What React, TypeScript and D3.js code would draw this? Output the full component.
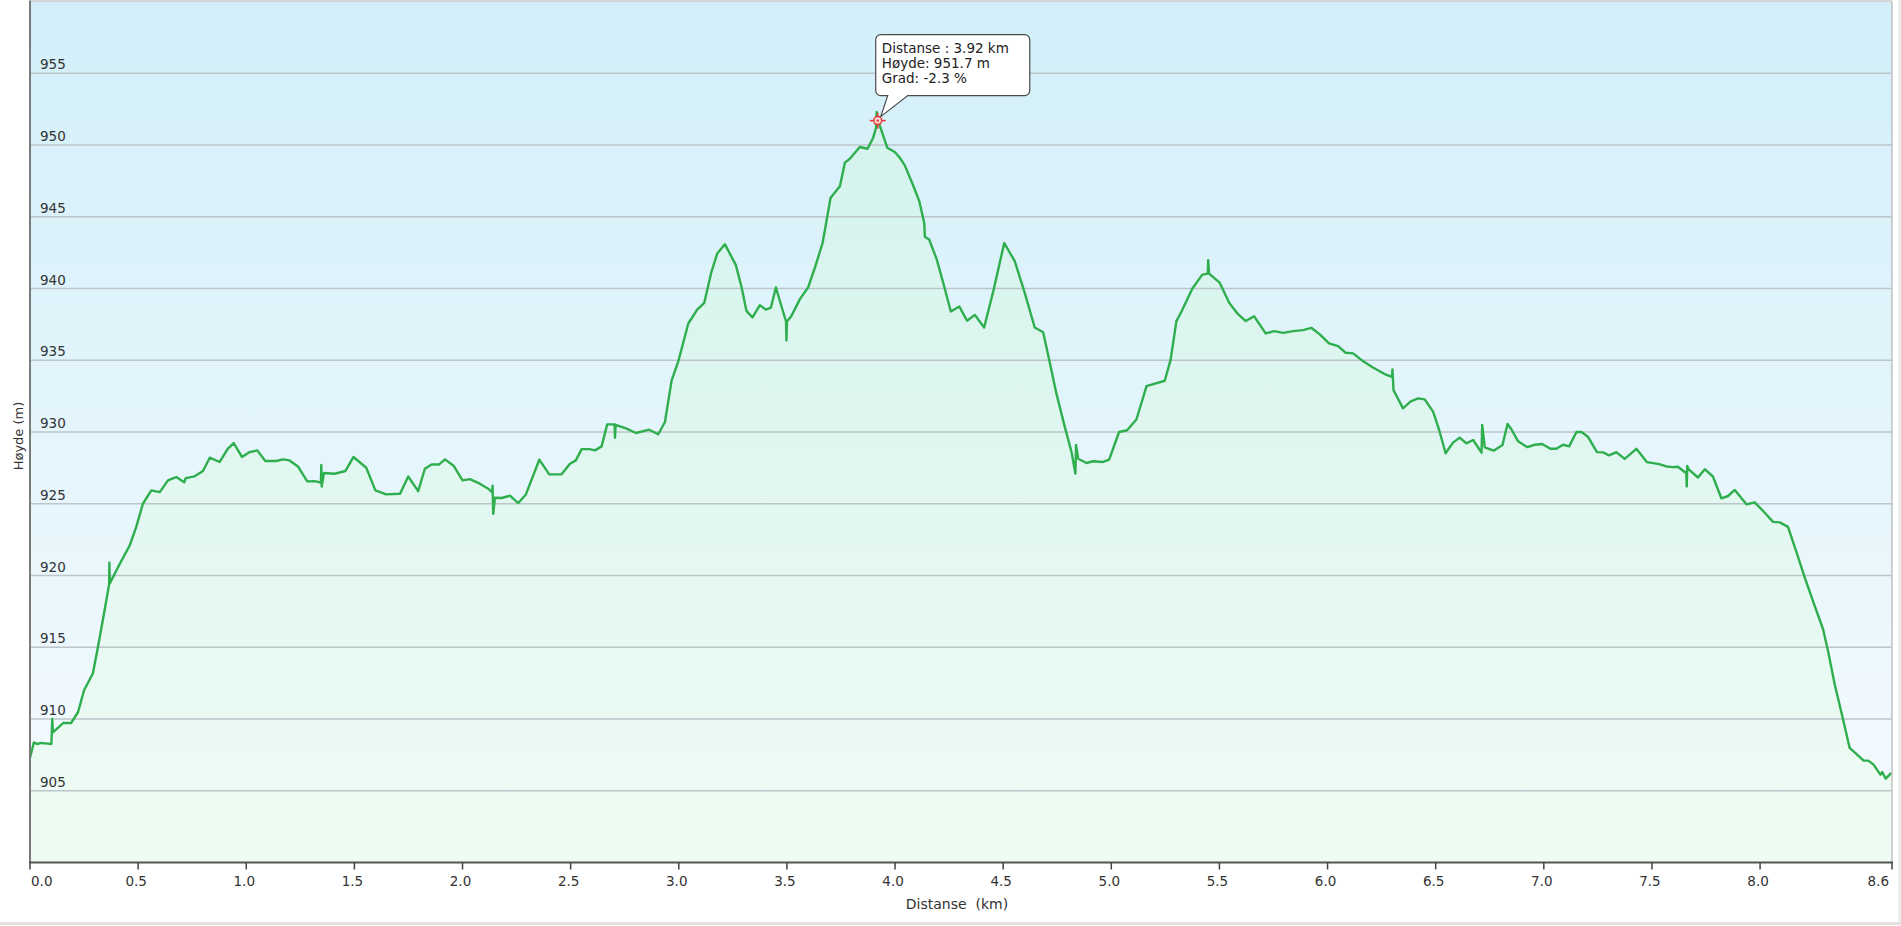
import React, { useEffect } from "react";
import * as d3 from "d3";

// ---- data ----
const distanceKm: number[] = [
  0.0, 0.018, 0.035, 0.049, 0.07, 0.099, 0.103, 0.106, 0.153, 0.19,
  0.222, 0.25, 0.291, 0.314, 0.342, 0.366, 0.367, 0.369, 0.407, 0.461,
  0.491, 0.522, 0.561, 0.6, 0.638, 0.676, 0.713, 0.72, 0.761, 0.8,
  0.831, 0.877, 0.915, 0.942, 0.98, 1.016, 1.051, 1.088, 1.139, 1.17,
  1.2, 1.239, 1.282, 1.316, 1.345, 1.347, 1.349, 1.359, 1.409, 1.458,
  1.496, 1.555, 1.597, 1.647, 1.711, 1.749, 1.795, 1.826, 1.857, 1.892,
  1.919, 1.96, 2.0, 2.034, 2.08, 2.119, 2.137, 2.139, 2.142, 2.15,
  2.181, 2.219, 2.258, 2.293, 2.355, 2.401, 2.458, 2.497, 2.524, 2.551,
  2.586, 2.612, 2.643, 2.669, 2.703, 2.705, 2.708, 2.759, 2.802, 2.863,
  2.905, 2.936, 2.967, 2.997, 3.044, 3.085, 3.118, 3.151, 3.178, 3.213,
  3.264, 3.29, 3.313, 3.341, 3.375, 3.403, 3.426, 3.449, 3.496, 3.498,
  3.5, 3.521, 3.56, 3.598, 3.629, 3.665, 3.702, 3.745, 3.768, 3.791,
  3.837, 3.873, 3.899, 3.912, 3.915, 3.92, 3.93, 3.964, 3.999, 4.022,
  4.045, 4.084, 4.112, 4.135, 4.138, 4.158, 4.192, 4.223, 4.258, 4.297,
  4.333, 4.369, 4.412, 4.454, 4.505, 4.554, 4.6, 4.646, 4.685, 4.713,
  4.746, 4.785, 4.816, 4.834, 4.837, 4.847, 4.885, 4.916, 4.962, 4.99,
  5.036, 5.073, 5.116, 5.163, 5.247, 5.274, 5.301, 5.324, 5.375, 5.421,
  5.446, 5.448, 5.452, 5.502, 5.545, 5.586, 5.622, 5.66, 5.714, 5.753,
  5.794, 5.841, 5.887, 5.925, 5.964, 6.007, 6.049, 6.084, 6.118, 6.161,
  6.21, 6.264, 6.298, 6.3, 6.305, 6.349, 6.383, 6.418, 6.449, 6.488,
  6.516, 6.546, 6.58, 6.611, 6.642, 6.673, 6.712, 6.715, 6.727, 6.768,
  6.809, 6.832, 6.85, 6.881, 6.923, 6.958, 6.993, 7.03, 7.058, 7.089,
  7.117, 7.151, 7.174, 7.205, 7.246, 7.274, 7.302, 7.335, 7.374, 7.428,
  7.477, 7.533, 7.567, 7.597, 7.62, 7.659, 7.661, 7.663, 7.67, 7.713,
  7.744, 7.782, 7.821, 7.852, 7.883, 7.937, 7.975, 8.013, 8.06, 8.091,
  8.129, 8.168, 8.206, 8.248, 8.291, 8.314, 8.345, 8.38, 8.414, 8.445,
  8.479, 8.5, 8.525, 8.556, 8.565, 8.581, 8.607,
];

const elevationM: number[] = [
  907.3, 908.37, 908.25, 908.33, 908.3, 908.26, 910.0, 909.07, 909.72, 909.72,
  910.47, 912.0, 913.19, 915.0, 917.33, 919.4, 920.9, 919.45, 920.58, 922.09,
  923.37, 925.0, 925.93, 925.81, 926.63, 926.86, 926.5, 926.79, 926.91, 927.28,
  928.21, 927.91, 928.84, 929.23, 928.26, 928.6, 928.72, 927.98, 927.98, 928.09,
  928.02, 927.6, 926.56, 926.58, 926.47, 927.7, 926.2, 927.14, 927.09, 927.28,
  928.26, 927.51, 925.93, 925.65, 925.7, 926.9, 925.88, 927.44, 927.74, 927.74,
  928.09, 927.63, 926.63, 926.72, 926.4, 926.05, 925.8, 926.25, 924.3, 925.42,
  925.4, 925.56, 925.05, 925.65, 928.07, 927.05, 927.05, 927.79, 928.02, 928.81,
  928.81, 928.72, 929.0, 930.53, 930.53, 929.6, 930.5, 930.23, 929.93, 930.16,
  929.84, 930.7, 933.6, 934.88, 937.56, 938.53, 939.0, 941.16, 942.44, 943.09,
  941.63, 940.12, 938.44, 937.98, 938.84, 938.53, 938.67, 940.07, 937.7, 936.37,
  937.7, 938.09, 939.26, 940.07, 941.43, 943.17, 946.32, 947.13, 948.77, 949.04,
  949.86, 949.74, 950.51, 951.2, 952.3, 951.7, 951.33, 949.81, 949.51, 949.11,
  948.58, 947.18, 946.09, 944.57, 943.6, 943.41, 942.06, 940.38, 938.4, 938.75,
  937.75, 938.16, 937.28, 939.79, 943.17, 941.89, 939.68, 937.28, 936.95, 935.02,
  932.69, 930.36, 928.61, 927.1, 929.1, 928.14, 927.84, 927.96, 927.91, 928.07,
  930.0, 930.12, 930.87, 933.2, 933.57, 935.01, 937.73, 938.38, 940.0, 940.97,
  941.04, 941.97, 941.04, 940.39, 939.0, 938.21, 937.73, 938.07, 936.87, 937.03,
  936.91, 937.03, 937.1, 937.26, 936.8, 936.17, 935.99, 935.52, 935.48, 934.97,
  934.5, 934.04, 933.85, 934.36, 932.92, 931.65, 932.11, 932.34, 932.27, 931.42,
  930.14, 928.52, 929.26, 929.61, 929.21, 929.44, 928.56, 930.49, 928.93, 928.7,
  929.1, 930.56, 930.19, 929.35, 928.95, 929.11, 929.16, 928.83, 928.83, 929.11,
  929.0, 930.0, 930.0, 929.65, 928.6, 928.58, 928.37, 928.6, 928.13, 928.83,
  927.9, 927.76, 927.6, 927.55, 927.58, 927.13, 926.2, 927.64, 927.4, 926.83,
  927.41, 926.9, 925.38, 925.54, 925.96, 924.96, 925.1, 924.51, 923.74, 923.7,
  923.39, 921.64, 919.89, 918.07, 916.27, 914.76, 912.42, 910.21, 907.99, 907.57,
  907.1, 907.1, 906.82, 906.12, 906.3, 905.84, 906.24,
];

const xTickValues: number[] = [0, 0.5, 1, 1.5, 2, 2.5, 3, 3.5, 4, 4.5, 5, 5.5, 6, 6.5, 7, 7.5, 8, 8.61];
const xTickLabels: string[] = ["0.0", "0.5", "1.0", "1.5", "2.0", "2.5", "3.0", "3.5", "4.0", "4.5", "5.0", "5.5", "6.0", "6.5", "7.0", "7.5", "8.0", "8.6"];
const yTickValues: number[] = [905, 910, 915, 920, 925, 930, 935, 940, 945, 950, 955];
const xDomain: [number, number] = [0, 8.61];
const yDomain: [number, number] = [900, 960];

const xAxisTitle = "Distanse  (km)";
const yAxisTitle = "Høyde (m)";

const tooltipPoint = { km: 3.92, m: 951.7 };
const tooltipLines: string[] = ["Distanse : 3.92 km", "Høyde: 951.7 m", "Grad: -2.3 %"];

// ---- layout ----
const W = 1901;
const H = 926;
const PL = 30;
const PR = 1892;
const PT = 1.5;
const PB = 862.5;
const FONT = "'DejaVu Sans', Verdana, sans-serif";

export default function App() {
  useEffect(() => {
    document.body.style.margin = "0";
    document.body.style.overflow = "hidden";
  }, []);

  const x = d3.scaleLinear().domain(xDomain).range([PL, PR]);
  const y = d3.scaleLinear().domain(yDomain).range([PB, PT]);

  const pts = distanceKm.map((d, i) => [d, elevationM[i]] as [number, number]);
  const linePath = d3
    .line<[number, number]>()
    .x((d) => x(d[0]))
    .y((d) => y(d[1]))(pts) as string;
  const areaPath = d3
    .area<[number, number]>()
    .x((d) => x(d[0]))
    .y0(PB)
    .y1((d) => y(d[1]))(pts) as string;

  const px = x(tooltipPoint.km);
  const py = y(tooltipPoint.m);
  const bx0 = px - 2;
  const bx1 = px + 152;
  const by0 = py - 86;
  const by1 = py - 25;
  const r = 5;
  const tip = `M${bx0 + r},${by0} H${bx1 - r} A${r},${r} 0 0 1 ${bx1},${by0 + r} V${by1 - r} A${r},${r} 0 0 1 ${bx1 - r},${by1} H${px + 30} L${px + 3},${py - 4} L${px + 10},${by1} H${bx0 + r} A${r},${r} 0 0 1 ${bx0},${by1 - r} V${by0 + r} A${r},${r} 0 0 1 ${bx0 + r},${by0} Z`;

  const lastTick = xTickValues.length - 1;

  return (
    <svg
      width={W}
      height={H}
      style={{ position: "absolute", left: 0, top: 0, display: "block", fontFamily: FONT }}
    >
      <defs>
        <linearGradient id="bgGrad" gradientUnits="userSpaceOnUse" x1="0" y1={PT} x2="0" y2={PB}>
          <stop offset="0" stopColor="#d2eff9" />
          <stop offset="1" stopColor="#f6fbff" />
        </linearGradient>
        <linearGradient id="areaGrad" gradientUnits="userSpaceOnUse" x1="0" y1={PT} x2="0" y2={PB}>
          <stop offset="0" stopColor="#d0f1ec" />
          <stop offset="1" stopColor="#effcf4" />
        </linearGradient>
      </defs>
      <rect x={0} y={0} width={W} height={H} fill="#ffffff" />
      {/* outer container border */}
      <line x1={0} y1={923.5} x2={W} y2={923.5} stroke="#e2e2e2" strokeWidth={3} />
      <line x1={1899.5} y1={0} x2={1899.5} y2={923} stroke="#e6e6e6" strokeWidth={2} />

      <rect x={PL} y={PT} width={PR - PL} height={PB - PT} fill="url(#bgGrad)" />
      <path d={areaPath} fill="url(#areaGrad)" />

      {yTickValues.map((v) => (
        <g key={v}>
          <line x1={PL} x2={PR} y1={y(v)} y2={y(v)} stroke="#bcc5ca" strokeWidth={1.5} />
          <text x={PL + 10} y={y(v) - 4} fontSize={13.5} fill="#333">
            {v}
          </text>
        </g>
      ))}

      <path d={linePath} fill="none" stroke="#2fae4e" strokeWidth={2.4} strokeLinejoin="round" />

      {/* frame */}
      <line x1={PL} x2={PR} y1={PT - 0.5} y2={PT - 0.5} stroke="#c8c8c8" strokeWidth={1.5} />
      <line x1={PR} x2={PR} y1={PT} y2={PB} stroke="#c0c0c0" strokeWidth={1.5} />
      <line x1={PL} x2={PL} y1={PT - 1} y2={PB} stroke="#7a7a7a" strokeWidth={2} />
      <line x1={PL - 1} x2={PR + 1} y1={PB} y2={PB} stroke="#555" strokeWidth={2} />

      {xTickValues.map((v, i) => {
        const anchor = i === 0 ? "start" : i === lastTick ? "end" : "middle";
        const lx = i === 0 ? x(v) + 1 : i === lastTick ? x(v) - 3 : x(v) - 2;
        return (
          <g key={v}>
            <line x1={x(v)} x2={x(v)} y1={PB} y2={PB + 7} stroke="#444" strokeWidth={1.5} />
            <text x={lx} y={886} fontSize={13.5} fill="#333" textAnchor={anchor}>
              {xTickLabels[i]}
            </text>
          </g>
        );
      })}

      <text x={(PL + PR) / 2 - 4} y={909} fontSize={14} fill="#333" textAnchor="middle" style={{ whiteSpace: "pre" }}>
        {xAxisTitle}
      </text>
      <text
        transform={`translate(18,${(PT + PB) / 2 + 4}) rotate(-90)`}
        fontSize={13}
        fill="#333"
        textAnchor="middle"
        dominantBaseline="central"
      >
        {yAxisTitle}
      </text>

      {/* tooltip */}
      <path d={tip} fill="#ffffff" stroke="#4a4a4a" strokeWidth={1.2} />
      {tooltipLines.map((t, i) => (
        <text key={i} x={bx0 + 6} y={by0 + 18 + i * 15.2} fontSize={13.5} fill="#222" style={{ whiteSpace: "pre" }}>
          {t}
        </text>
      ))}
      <g>
        <line x1={px - 8} x2={px + 8} y1={py} y2={py} stroke="#e53935" strokeWidth={1.5} />
        <line x1={px} x2={px} y1={py - 8} y2={py + 8} stroke="#e53935" strokeWidth={1.5} />
        <circle cx={px} cy={py} r={4} fill="#ffd6d6" stroke="#e53935" strokeWidth={1.5} />
        <circle cx={px} cy={py} r={1.2} fill="#e53935" />
      </g>
    </svg>
  );
}
